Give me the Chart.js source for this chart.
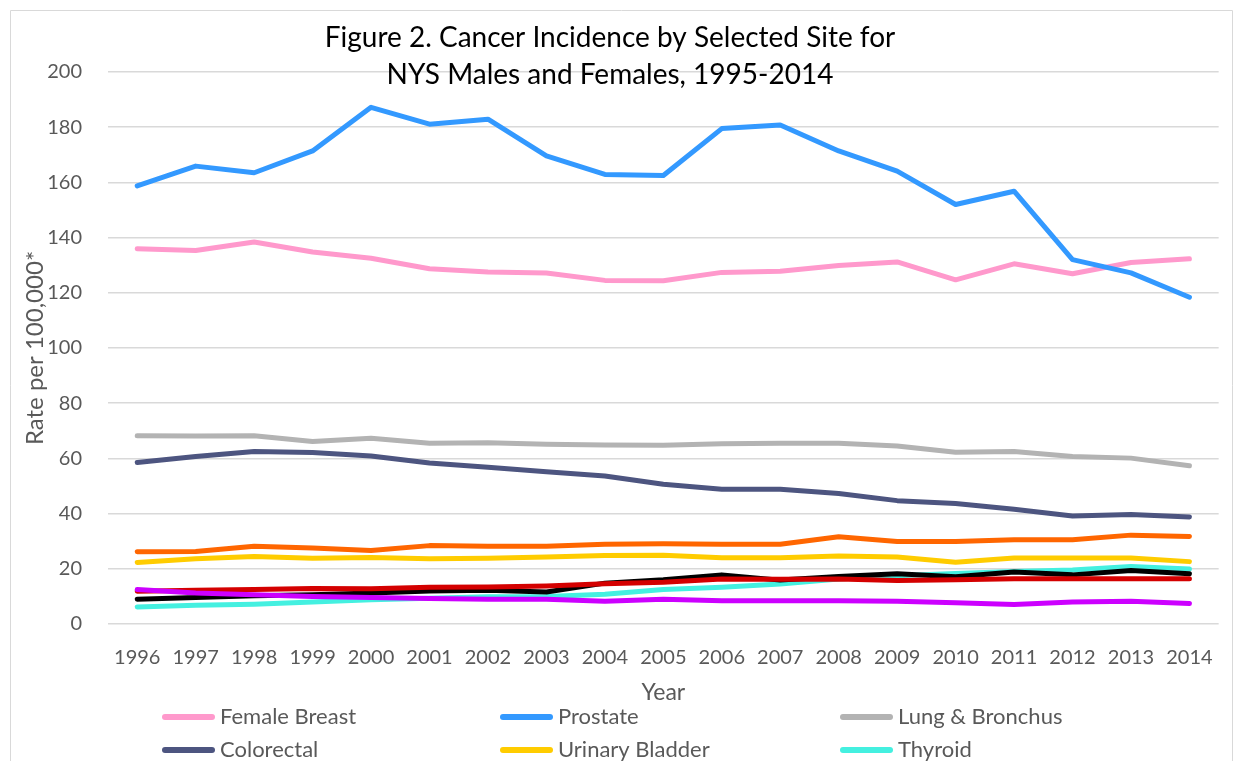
<!DOCTYPE html>
<html>
<head>
<meta charset="utf-8">
<script src="https://cdn.jsdelivr.net/npm/chart.js@4"></script>
<style>
  html, body { margin: 0; padding: 0; background: #fff; overflow: hidden; }
  #wrap { position: relative; width: 1235px; height: 761px; }
</style>
</head>
<body>
<div id="wrap"><canvas id="chart-incidence"></canvas></div>
<script>
// data
const years = ["1996","1997","1998","1999","2000","2001","2002","2003","2004","2005",
               "2006","2007","2008","2009","2010","2011","2012","2013","2014"];

const femaleBreast = [136.0,135.3,138.4,134.8,132.5,128.7,127.5,127.2,124.5,124.4,127.4,127.8,129.9,131.2,124.7,130.5,126.9,131.0,132.3];
const prostate     = [158.7,165.9,163.5,171.4,187.2,181.1,182.9,169.6,162.9,162.5,179.5,180.8,171.4,164.1,152.0,156.8,132.0,127.2,118.4];
const lungBronchus = [68.2,68.1,68.2,66.1,67.3,65.5,65.7,65.1,64.9,64.8,65.3,65.5,65.5,64.5,62.2,62.5,60.7,60.1,57.3];
const colorectal   = [58.5,60.7,62.5,62.1,60.9,58.3,56.8,55.2,53.6,50.6,48.8,48.8,47.3,44.7,43.7,41.6,39.1,39.7,38.8];
const bladder      = [22.3,23.6,24.5,23.8,24.1,23.6,23.8,24.3,24.8,24.9,24.0,24.0,24.6,24.3,22.4,23.9,23.9,23.9,22.6];
const thyroid      = [6.2,6.8,7.2,8.0,8.8,9.3,9.9,10.0,10.8,12.5,13.3,14.5,16.3,17.5,18.3,19.0,19.6,20.8,19.9];
const seriesOrange = [26.2,26.3,28.2,27.5,26.6,28.4,28.2,28.2,28.9,29.1,28.9,28.9,31.6,29.9,29.9,30.5,30.5,32.2,31.7];
const seriesBlack  = [9.0,9.6,10.2,10.6,11.2,12.0,12.2,11.6,14.8,16.0,17.8,15.9,17.2,18.2,17.1,18.8,17.8,19.4,18.2];
const seriesRed    = [11.9,12.2,12.5,12.9,12.8,13.3,13.4,13.8,14.6,15.1,16.3,16.2,16.3,15.8,16.0,16.4,16.4,16.4,16.4];
const seriesViolet = [12.5,11.2,10.6,10.0,9.6,9.2,9.0,9.0,8.2,9.0,8.4,8.4,8.4,8.2,7.7,7.1,8.0,8.2,7.4];

const yTicks = [0,20,40,60,80,100,120,140,160,180,200];
const titleLines = ["Figure 2. Cancer Incidence by Selected Site for", "NYS Males and Females, 1995-2014"];

const series = [
  { label: "Female Breast",   data: femaleBreast, color: "#ff99cc", legend: true },
  { label: "Prostate",        data: prostate,     color: "#3399ff", legend: true },
  { label: "Lung & Bronchus", data: lungBronchus, color: "#b3b3b3", legend: true },
  { label: "Colorectal",      data: colorectal,   color: "#4d5580", legend: true },
  { label: "Urinary Bladder", data: bladder,      color: "#ffcc00", legend: true },
  { label: "Thyroid",         data: thyroid,      color: "#44f0e0", legend: true },
  { label: "Series 7",        data: seriesOrange, color: "#ff6600", legend: false },
  { label: "Series 8",        data: seriesBlack,  color: "#000000", legend: false },
  { label: "Series 9",        data: seriesRed,    color: "#d40000", legend: false },
  { label: "Series 10",       data: seriesViolet, color: "#cc00ff", legend: false }
];

const FONT = "Lato, 'Open Sans', sans-serif";
const GREY = "#595959";

// frame + title + legend, drawn around the chart area
const decor = {
  id: "decor",
  beforeDraw(chart) {
    const c = chart.ctx;
    c.save();
    c.strokeStyle = "#d9d9d9";
    c.lineWidth = 1;
    c.beginPath();
    c.moveTo(10.5, 761); c.lineTo(10.5, 10.5); c.lineTo(1232.5, 10.5); c.lineTo(1232.5, 761);
    c.stroke();
    c.restore();
  },
  afterDraw(chart) {
    const c = chart.ctx;
    c.save();
    c.fillStyle = "#000";
    c.font = "28px " + FONT;
    c.textAlign = "center";
    c.textBaseline = "middle";
    c.fillText(titleLines[0], 610, 38);
    c.fillText(titleLines[1], 610, 75);

    // legend: three fixed columns, only the rows that show in the reference
    const shown = chart.data.datasets.filter(d => d.showInLegend);
    const colX = [162, 500, 840];
    const rowY = [717, 750];
    c.font = "22px " + FONT;
    c.textAlign = "left";
    shown.forEach((d, i) => {
      const x = colX[i % 3];
      const y = rowY[Math.floor(i / 3)];
      c.strokeStyle = d.borderColor;
      c.lineWidth = 6;
      c.lineCap = "round";
      c.beginPath();
      c.moveTo(x + 3, y); c.lineTo(x + 50, y);
      c.stroke();
      c.fillStyle = GREY;
      c.fillText(d.label, x + 58, y);
    });
    c.restore();
  }
};

const datasets = series.map((s, i) => ({
  label: s.label,
  data: s.data,
  borderColor: s.color,
  backgroundColor: s.color,
  borderWidth: 5,
  borderCapStyle: "round",
  borderJoinStyle: "round",
  pointRadius: 0,
  tension: 0,
  fill: false,
  showInLegend: s.legend,
  order: series.length - i   // later series sit on top, as in the source
}));

new Chart(document.getElementById("chart-incidence"), {
  type: "line",
  data: { labels: years, datasets: datasets },
  options: {
    responsive: true,
    maintainAspectRatio: false,
    animation: false,
    layout: { padding: { left: 0, right: 14, top: 72, bottom: 47 } },
    plugins: {
      legend: { display: false },
      title: { display: false },
      tooltip: { enabled: false }
    },
    scales: {
      x: {
        offset: true,
        afterFit: (scale) => { scale.height = 90; },
        grid: { display: false, drawTicks: false },
        border: { display: false },
        ticks: { color: GREY, font: { family: FONT, size: 20 }, padding: 22, maxRotation: 0, autoSkip: false },
        title: { display: true, text: "Year", color: GREY, font: { family: FONT, size: 23 }, padding: { top: 0, bottom: 8 } }
      },
      y: {
        min: yTicks[0],
        max: yTicks[yTicks.length - 1],
        afterFit: (scale) => { scale.width = 108; },
        afterBuildTicks: (scale) => { scale.ticks = yTicks.map(v => ({ value: v })); },
        grid: { color: "#d9d9d9", lineWidth: 1.5, drawTicks: false },
        border: { display: false },
        ticks: { color: GREY, font: { family: FONT, size: 20 }, padding: 26 },
        title: { display: true, text: "Rate per 100,000*", color: GREY, font: { family: FONT, size: 24 }, padding: { top: 21, bottom: 0 } }
      }
    }
  },
  plugins: [decor]
});
</script>
</body>
</html>
